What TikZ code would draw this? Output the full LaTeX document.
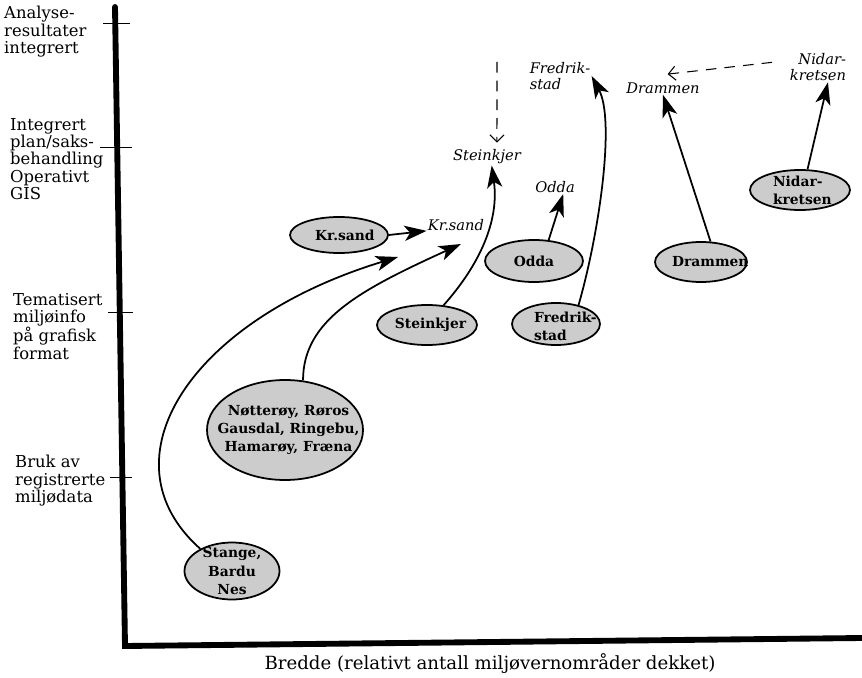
\documentclass[tikz,border=0pt]{standalone}
\usepackage{fontspec}
\setmainfont{DejaVu Serif}
\usetikzlibrary{shapes.geometric, arrows.meta}

\begin{document}
\begin{tikzpicture}[x=0.03cm, y=-0.03cm,
    town/.style={ellipse, draw, line width=1.5pt, fill=black!20, inner sep=0pt},
    townname/.style={font=\fontsize{11.8}{15.5}\selectfont\bfseries, align=center, inner sep=0pt},
    goal/.style={font=\fontsize{12.5}{14}\selectfont\itshape, inner sep=1pt},
    level/.style={font=\fontsize{14}{14.8}\selectfont, align=left, anchor=north west, inner sep=0pt},
    axis/.style={line width=5pt, line cap=round},
    tick/.style={line width=0.8pt},
    flow/.style={-{Stealth[length=19pt, width=13pt, inset=5pt]}, line width=1.5pt},
    later/.style={-{Straight Barb[length=6pt, width=12pt]}, dash pattern=on 9pt off 7pt, line width=0.9pt}
]
    \path[use as bounding box, fill=white] (0,0) rectangle (862,678);

    % Axes and levels
    \coordinate (ytop) at (115,7);
    \coordinate (origin) at (125,646);
    \coordinate (xend) at (862,638);
    \draw[axis] (ytop) -- (origin) -- (xend);
    \foreach \y/\xa/\xb in {23/103/130, 147/100/132, 312/108/133, 477/110/132}
        \draw[tick] (\xa,\y) -- (\xb,\y);

    \node[level] (lvlanalyse) at (4,6) {Analyse-\\resultater\\integrert};
    \node[level] (lvlplan) at (10,118) {Integrert\\plan/saks-\\behandling\\Operativt\\GIS};
    \node[level] (lvltema) at (13,293) {Tematisert\\miljøinfo\\på grafisk\\format};
    \node[level] (lvlbruk) at (15,455) {Bruk av\\registrerte\\miljødata};
    \node[level, anchor=center, align=center, font=\fontsize{15.5}{16}\selectfont] (xlabel) at (490,664) {Bredde (relativt antall miljøvernområder dekket)};

    % Present state
    \node[town, minimum width=2.94cm, minimum height=1.08cm, label={[townname, xshift=5pt]center:Kr.sand}] (krs) at (339,235) {};
    \node[town, minimum width=2.94cm, minimum height=1.26cm, label={[townname]center:Odda}] (odda) at (534,261) {};
    \node[town, minimum width=3cm, minimum height=1.2cm, label={[townname, xshift=3pt]center:Steinkjer}] (stein) at (427,325) {};
    \node[town, minimum width=2.64cm, minimum height=1.26cm, label={[townname, align=left, xshift=8pt, yshift=-2pt]center:{Fredrik-\\stad}}] (fred) at (556,324) {};
    \node[town, minimum width=2.76cm, minimum height=1.2cm, label={[townname, xshift=8pt]center:Drammen}] (dram) at (701,262) {};
    \node[town, minimum width=3cm, minimum height=1.2cm, label={[townname, align=left, xshift=2pt]center:{Nidar-\\kretsen}}] (nid) at (800,190) {};
    \node[town, minimum width=4.68cm, minimum height=3cm, label={[townname, xshift=3pt]center:{Nøtterøy, Røros\\Gausdal, Ringebu,\\Hamarøy, Fræna}}] (nott) at (285,430) {};
    \node[town, minimum width=2.85cm, minimum height=1.71cm, label={[townname]center:{Stange,\\Bardu\\Nes}}] (stange) at (232,571) {};

    % Planned state
    \node[goal] (krsT) at (456,225) {Kr.sand};
    \node[goal] (steinT) at (487,157) {Steinkjer};
    \node[goal] (oddaT) at (555,187) {Odda};
    \node[goal, align=left] (fredT) at (560,76) {Fredrik-\\stad};
    \node[goal] (dramT) at (663,88) {Drammen};
    \node[goal, align=right] (nidT) at (818,67) {Nidar-\\kretsen};

    % Development
    \coordinate (krsA) at (398,257);
    \coordinate (krsB) at (461,244);
    \coordinate (dashtop) at (497,62);
    \draw[flow] (krs.east) -- ([yshift=-5pt]krsT.west);
    \draw[flow] (stange.145) .. controls (100,460) and (190,320) .. (krsA);
    \draw[flow] (nott.70) .. controls (303,320) and (360,290) .. (krsB);
    \draw[flow] (stein.50) .. controls (475,270) and (500,225) .. ([xshift=4pt]steinT.south);
    \draw[flow] (odda.55) -- ([xshift=7pt]oddaT.south);
    \draw[flow] (fred.40) .. controls (600,230) and (615,120) .. (fredT.east);
    \draw[flow] (dram.65) -- (dramT.south);
    \draw[flow] (nid.70) -- ([xshift=8.5pt]nidT.south);
    \draw[later] (dashtop) -- ([xshift=8.5pt, yshift=5pt]steinT.north);
    \draw[later] ([xshift=-14pt, yshift=4pt]nidT.west) -- ([xshift=4pt, yshift=6pt]dramT.north);
\end{tikzpicture}
\end{document}
